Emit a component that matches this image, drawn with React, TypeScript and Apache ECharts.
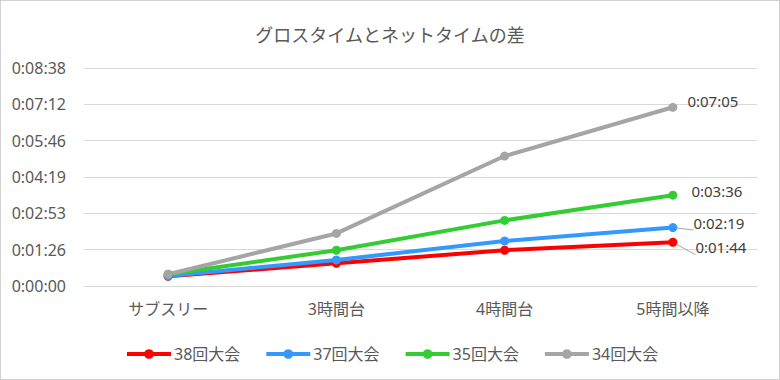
import React, { useEffect, useRef } from "react";
import * as echarts from "echarts";

const categories = ["サブスリー", "3時間台", "4時間台", "5時間以降"];
const seriesNames = ["38回大会", "37回大会", "35回大会", "34回大会"];
// seconds
const s38 = [23, 54, 85, 104];
const s37 = [24, 62, 107, 139];
const s35 = [28, 85, 156, 216];
const s34 = [28, 125, 309, 425];
const colors = ["#FF0000", "#3399FF", "#33CC33", "#A5A5A5"];
const yMax = 518.4;
const yInterval = 86.4;

function fmt(v: number): string {
  const t = Math.round(v);
  const h = Math.floor(t / 3600);
  const m = Math.floor((t % 3600) / 60);
  const s = t % 60;
  return `${h}:${String(m).padStart(2, "0")}:${String(s).padStart(2, "0")}`;
}

const FONT = "'Noto Sans', 'Noto Sans CJK JP', sans-serif";

export default function App() {
  const ref = useRef<HTMLDivElement>(null);
  useEffect(() => {
    if (!ref.current) return;
    const chart = echarts.init(ref.current, undefined, { renderer: "svg" });
    const allData = [s38, s37, s35, s34];
    const lastLabel: any[] = [
      { offset: [13, 5], labelLine: true },
      { offset: [11, -5], labelLine: true },
      { offset: [9, -4], labelLine: false },
      { offset: [5, -6], labelLine: false },
    ];
    const series = allData.map((d, i) => ({
      name: seriesNames[i],
      type: "line",
      data: d.map((v, j) => {
        if (j !== d.length - 1) return v;
        return {
          value: v,
          label: {
            show: true,
            position: "right",
            offset: lastLabel[i].offset,
            formatter: (p: any) => fmt(p.value),
            color: "#404040",
            fontSize: 15,
            fontFamily: FONT,
          },
          labelLine: lastLabel[i].labelLine
            ? { show: true, lineStyle: { color: "#A5A5A5", width: 1 } }
            : { show: false },
        };
      }),
      symbol: "circle",
      symbolSize: 9,
      lineStyle: { width: 4, color: colors[i] },
      itemStyle: { color: colors[i] },
      label: { show: false },
    }));
    chart.setOption({
      animation: false,
      backgroundColor: "#ffffff",
      title: {
        text: "グロスタイムとネットタイムの差",
        left: "center",
        top: 20,
        textStyle: {
          fontSize: 18,
          fontWeight: "normal",
          color: "#595959",
          fontFamily: FONT,
        },
      },
      legend: {
        top: 340,
        left: 119,
        itemWidth: 44,
        itemHeight: 12,
        itemGap: 24,
        lineStyle: { width: 4 },
        textStyle: {
          fontSize: 16,
          color: "#595959",
          fontFamily: FONT,
          padding: [0, 0, 0, -2],
        },
        data: seriesNames,
      },
      grid: { left: 83, right: 22, top: 67, bottom: 93 },
      xAxis: {
        type: "category",
        data: categories,
        boundaryGap: true,
        axisLine: { show: false },
        axisTick: { show: false },
        axisLabel: {
          fontSize: 16,
          color: "#595959",
          fontFamily: FONT,
          margin: 15,
        },
      },
      yAxis: {
        type: "value",
        min: 0,
        max: yMax,
        interval: yInterval,
        axisLine: { show: false },
        axisTick: { show: false },
        splitLine: { lineStyle: { color: "#D9D9D9", width: 1 } },
        axisLabel: {
          fontSize: 16,
          color: "#595959",
          fontFamily: FONT,
          margin: 18,
          formatter: (v: number) => fmt(v),
        },
      },
      series,
    });
    return () => chart.dispose();
  }, []);
  return (
    <div
      style={{
        position: "fixed",
        left: 0,
        top: 0,
        width: 780,
        height: 380,
        boxSizing: "border-box",
        border: "1px solid #D0D0D0",
        background: "#fff",
      }}
    >
      <div ref={ref} style={{ width: 778, height: 378 }} />
    </div>
  );
}
